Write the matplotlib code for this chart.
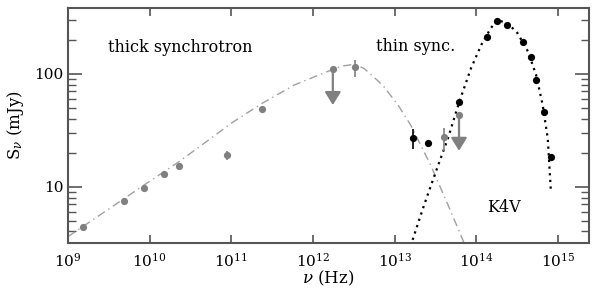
import matplotlib
matplotlib.use('Agg')
import matplotlib.pyplot as plt
from matplotlib.ticker import LogLocator, NullLocator, NullFormatter

plt.rcParams['font.family'] = 'DejaVu Serif'
plt.rcParams['mathtext.fontset'] = 'dejavuserif'

# radio / IR points (grey)
grey_nu = [1.51e9, 4.85e9, 8.5e9, 1.5e10, 2.27e10, 8.8e10, 2.4e11, 3.3e12, 4.06e13]
grey_s = [4.4, 7.5, 9.7, 12.9, 15.4, 19.0, 49, 115, 27.6]
grey_lo = [4.4, 7.5, 9.7, 12.9, 15.4, 17.3, 49, 94, 20.8]
grey_hi = [4.4, 7.5, 9.7, 12.9, 15.4, 20.9, 49, 133, 33.4]

# grey upper limits
lim_nu = [1.75e12, 6.14e13]
lim_s = [110, 43.3]
lim_tip = [53, 20.8]

# IR / optical points (black)
black_nu = [1.66e13, 2.54e13, 6.14e13, 1.34e14, 1.79e14, 2.36e14, 3.74e14,
            4.64e14, 5.35e14, 6.7e14, 8.2e14]
black_s = [26.9, 24.3, 56, 212, 297, 272, 194, 141, 88.5, 46, 18.2]
black_lo = [21.5] + black_s[1:]
black_hi = [32.5] + black_s[1:]

# synchrotron model (dash-dot)
sync_nu = [1e9, 8.5e9, 2.3e10, 1.07e11, 2.4e11, 5.9e11, 1.5e12, 2.2e12,
           3.2e12, 4.2e12, 5.4e12, 7.4e12, 1.1e13, 1.58e13, 2.75e13, 4.5e13, 7.1e13]
sync_s = [3.6, 10.3, 16.7, 37.8, 55, 79.8, 105, 117, 122, 112, 96, 77,
          53, 35, 15.6, 6.9, 3.15]

# K4V star model (dotted)
star_nu = [1.66e13, 2.3e13, 3.2e13, 4.5e13, 6.2e13, 8.6e13, 1.15e14, 1.5e14,
           1.8e14, 2.43e14, 3.2e14, 4.3e14, 5.4e14, 6.5e14, 7.5e14, 8.2e14]
star_s = [3.37, 6.9, 13.6, 26.9, 56.8, 112, 181, 254, 301, 282, 230, 158,
          98, 53, 26.9, 9.0]

grey = '#808080'
axcol = '#555555'

fig = plt.figure(figsize=(5.95, 2.89), dpi=100)
ax = fig.add_axes([68 / 595, 1 - 243 / 289, 521 / 595, 235 / 289])
ax.set_xscale('log')
ax.set_yscale('log')

ax.plot(sync_nu, sync_s, color='#a0a0a0', lw=1.0, linestyle=(0, (6, 3, 1, 3)))
ax.plot(star_nu, star_s, color='black', lw=1.6, linestyle=(0, (1, 2)))

ax.vlines(grey_nu, grey_lo, grey_hi, color=grey, lw=1.2)
ax.vlines(black_nu, black_lo, black_hi, color='black', lw=1.2)

ax.plot(grey_nu, grey_s, 'o', color=grey, ms=5.2, mec='none')
ax.plot(lim_nu, lim_s, 'o', color=grey, ms=5.2, mec='none')
for nu, s, tip in zip(lim_nu, lim_s, lim_tip):
    ax.annotate('', xy=(nu, tip), xytext=(nu, s),
                arrowprops=dict(arrowstyle='-|>,head_width=0.4,head_length=0.65',
                                color=grey, lw=1.6, mutation_scale=12,
                                shrinkA=0, shrinkB=0))
ax.plot(black_nu, black_s, 'o', color='black', ms=5.2, mec='none')

ax.set_xlim(1e9, 2.4e15)
ax.set_ylim(3.16, 385)

ax.set_xticks([10.0 ** k for k in range(9, 16)])
ax.set_xticklabels(['$10^{%d}$' % k for k in range(9, 16)])
ax.xaxis.set_minor_locator(NullLocator())
ax.set_yticks([10, 100])
ax.set_yticklabels(['10', '100'])
ax.yaxis.set_minor_locator(LogLocator(subs=range(2, 10)))
ax.yaxis.set_minor_formatter(NullFormatter())

ax.tick_params(axis='both', which='both', direction='in', top=True, right=True,
               color=axcol, labelsize=11)
ax.tick_params(axis='x', which='major', length=6, width=1.2, pad=6)
ax.tick_params(axis='y', which='major', length=10, width=1.2, pad=3)
ax.tick_params(axis='y', which='minor', length=6, width=1.0)
for sp in ax.spines.values():
    sp.set_color(axcol)
    sp.set_linewidth(1.5)

ax.set_xlabel(r'$\nu$ (Hz)', fontsize=12, labelpad=0)
ax.set_ylabel(r'S$_\nu$ (mJy)', fontsize=12, labelpad=6)

ax.text(0.215, 0.834, 'thick synchrotron', transform=ax.transAxes,
        ha='center', va='center', fontsize=11.5)
ax.text(0.668, 0.838, 'thin sync.', transform=ax.transAxes,
        ha='center', va='center', fontsize=11.5)
ax.text(0.837, 0.153, 'K4V', transform=ax.transAxes,
        ha='center', va='center', fontsize=11.5)

fig.savefig('out.png', dpi=100)
